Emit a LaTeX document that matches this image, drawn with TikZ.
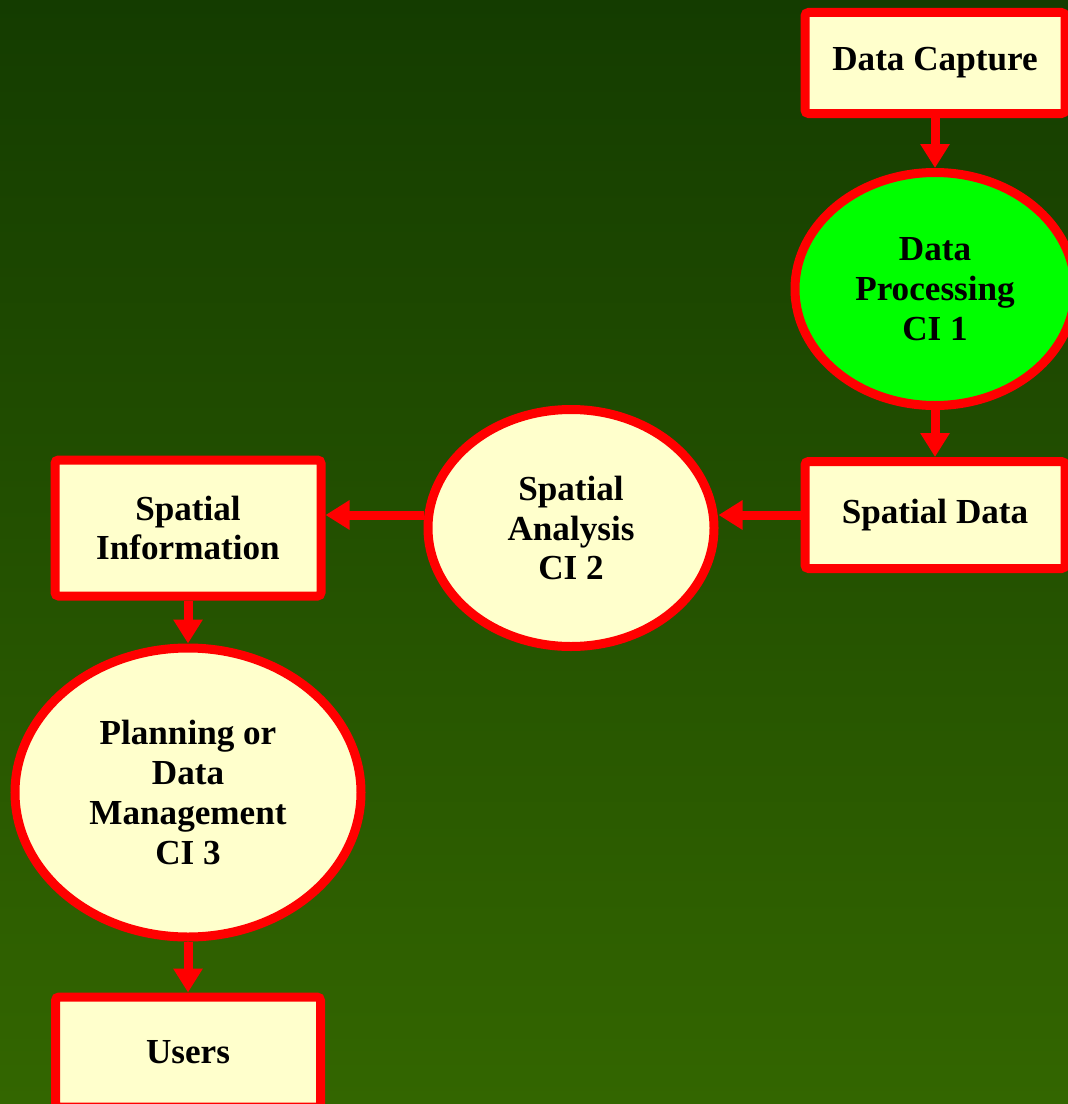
\documentclass[tikz,border=0pt]{standalone}
\usepackage{fontspec}
\setmainfont{Liberation Serif}
\usetikzlibrary{shapes,arrows,positioning,arrows.meta}
\usepackage{xcolor}
\definecolor{bgtop}{RGB}{20,60,0}
\definecolor{bgbottom}{RGB}{51,102,0}
\definecolor{boxfill}{RGB}{255,255,204}
\definecolor{procgreen}{RGB}{0,255,0}

\begin{document}
\begin{tikzpicture}[node distance=1cm, auto, font=\fontsize{20}{22.7}\selectfont\bfseries]

% Styles for boxes
\tikzstyle{box} = [rectangle, draw=red, line width=0.18cm, fill=boxfill, align=center, rounded corners=2pt, inner sep=0pt, minimum width=5.2cm, minimum height=2.02cm]
\tikzstyle{proc} = [ellipse, draw=red, line width=0.18cm, fill=boxfill, align=center, inner sep=0pt]
\tikzstyle{flow} = [red, line width=0.18cm, -{Triangle[length=0.48cm, width=0.56cm]}]

% Background
\useasboundingbox (0,0) rectangle (21.36,-22.08);
\shade[top color=bgtop, bottom color=bgbottom] (0,0) rectangle (21.36,-22.08);
\clip (0,0) rectangle (21.36,-22.08);

% Nodes
\node [box] (capture) at (18.7,-1.26) {Data Capture};
\node [proc, fill=procgreen, minimum width=5.6cm, minimum height=4.66cm, below=of capture] (processing) {Data\\Processing\\CI 1};
\node [box, minimum width=5.2cm, minimum height=2.14cm, below=0.94cm of processing] (sdata) {Spatial Data};
\node [proc, minimum width=5.72cm, minimum height=4.74cm, left=1.64cm of sdata, yshift=-0.26cm] (analysis) {Spatial\\Analysis\\CI 2};
\node [box, minimum width=5.32cm, minimum height=2.72cm, left=1.96cm of analysis] (info) {Spatial\\Information};
\node [proc, minimum width=6.92cm, minimum height=5.78cm, below=0.86cm of info] (planning) {Planning or\\Data\\Management\\CI 3};
\node [box, minimum width=5.3cm, minimum height=2.2cm, below=1.02cm of planning] (users) {Users};

% Edges
\draw[flow] (capture) -- (processing);
\draw[flow] (processing) -- (sdata);
\draw[flow] (sdata.west) -- (sdata.west -| analysis.east);
\draw[flow] (sdata.west -| analysis.west) -- (sdata.west -| info.east);
\draw[flow] (info) -- (planning);
\draw[flow] (planning) -- (users);

\end{tikzpicture}
\end{document}
